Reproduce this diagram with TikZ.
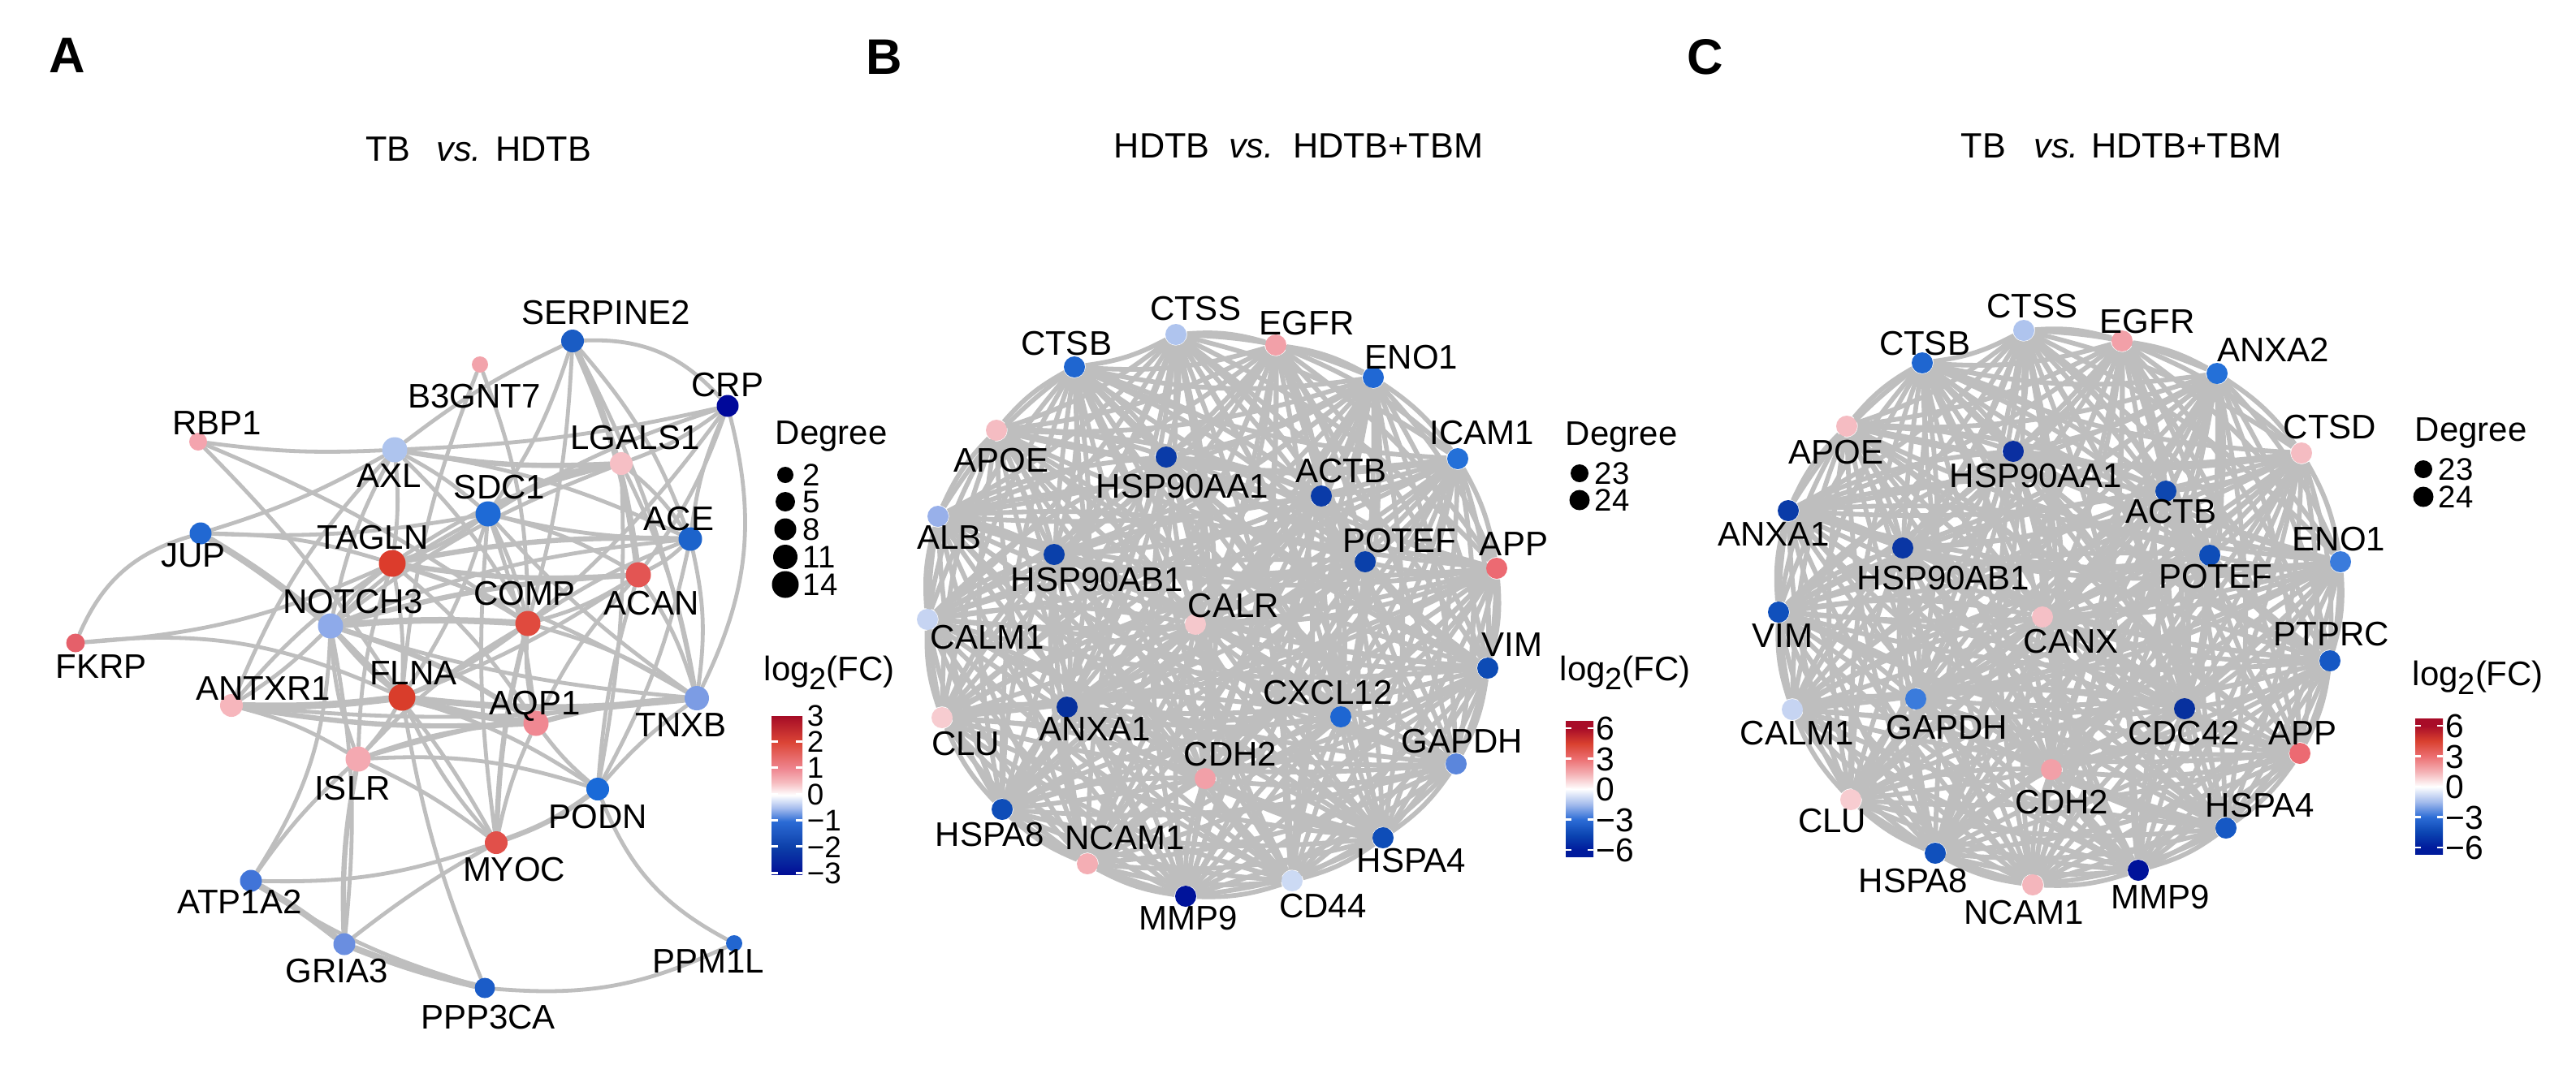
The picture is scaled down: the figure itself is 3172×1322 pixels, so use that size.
\documentclass[tikz,border=0pt]{standalone}
\usepackage{fontspec}
\setmainfont{Liberation Sans}
\definecolor{edgegray}{HTML}{BEBEBE}
% colour bar A
\definecolor{cbAmiii}{HTML}{020E96}
\definecolor{cbAmii}{HTML}{0C3EA8}
\definecolor{cbAmi}{HTML}{2B6BD5}
\definecolor{cbAmh}{HTML}{A8BEEE}
\definecolor{cbAph}{HTML}{F6BCC0}
\definecolor{cbApi}{HTML}{EF8690}
\definecolor{cbApii}{HTML}{DC4536}
\definecolor{cbApiii}{HTML}{A50C26}
% colour bar B/C
\definecolor{cbBmvi}{HTML}{001B9C}
\definecolor{cbBmiv}{HTML}{0B45B2}
\definecolor{cbBmiii}{HTML}{2C6CD6}
\definecolor{cbBmh}{HTML}{A3BBEC}
\definecolor{cbBph}{HTML}{F4B0B4}
\definecolor{cbBpiii}{HTML}{EC6E70}
\definecolor{cbBpiv}{HTML}{D9402F}
\definecolor{cbBpvi}{HTML}{A80C28}
\pgfdeclareverticalshading{fcbarA}{100bp}{color(0bp)=(cbAmiii); color(25bp)=(cbAmiii); color(33.33bp)=(cbAmii); color(41.67bp)=(cbAmi); color(46bp)=(cbAmh); color(50bp)=(white); color(54bp)=(cbAph); color(58.33bp)=(cbApi); color(66.67bp)=(cbApii); color(75bp)=(cbApiii); color(100bp)=(cbApiii)}
\pgfdeclareverticalshading{fcbarB}{100bp}{color(0bp)=(cbBmvi); color(27.4bp)=(cbBmvi); color(33bp)=(cbBmiv); color(38.6bp)=(cbBmiii); color(44.2bp)=(cbBmh); color(49.85bp)=(white); color(55.5bp)=(cbBph); color(61.1bp)=(cbBpiii); color(66.7bp)=(cbBpiv); color(72.3bp)=(cbBpvi); color(100bp)=(cbBpvi)}
\pgfdeclarelayer{bg}
\pgfsetlayers{bg,main}
\tikzset{
  gdot/.style={circle, inner sep=0pt, minimum size=#1*0.25pt},
  lbl/.style={inner sep=0pt, font=\fontsize{10.5}{12}\selectfont, text height=7.5pt, text depth=0pt},
  ttl/.style={inner sep=0pt, font=\fontsize{10.8}{12}\selectfont, text height=7.7pt, text depth=0pt},
  plet/.style={inner sep=0pt, font=\fontsize{15.4}{16}\selectfont\bfseries, text height=11pt, text depth=0pt},
  tickA/.style={inner sep=0pt, anchor=west, font=\fontsize{9.2}{10}\selectfont, text height=6.6pt, text depth=0pt},
  tickB/.style={inner sep=0pt, anchor=west, font=\fontsize{10.2}{12}\selectfont, text height=7.3pt, text depth=0pt},
  degl/.style={inner sep=0pt, anchor=west, font=\fontsize{9.6}{11}\selectfont, text height=6.9pt, text depth=0pt},
  edgeA/.style={draw=edgegray, line cap=round},
  edgeB/.style={draw=edgegray, line width=1.45pt},
  cbtick/.style={draw=white, line width=0.7pt},
}
\newcommand\mkgene[8]{%
  \definecolor{col#1}{HTML}{#5}%
  \node[gdot=#4, fill=col#1] (#1) at (#2,#3) {};
  \node[lbl] (#1-l) at (#6,#7) {#8};
}
\newcommand\logfc{log\raisebox{-0.28em}{\fontsize{9.5}{10}\selectfont 2}(FC)}
\begin{document}
\begin{tikzpicture}[x=0.25pt,y=-0.25pt]
\useasboundingbox (0,0) rectangle (3172,1322);
\begin{pgfonlayer}{bg}
\fill[white] (0,0) rectangle (3172,1322);
\end{pgfonlayer}

% ---------------- Panel A ----------------
\node[plet] (pA) at (83,67) {A};
\node[ttl] (tA) at (589,183) {TB\hspace{0.75em}\textit{vs.}\hspace{0.4em}HDTB};

\mkgene{serp}{705}{420}{28}{1A5CC4}{746}{384}{SERPINE2}
\mkgene{b3g}{591}{449}{20}{F2A3AB}{584}{487}{B3GNT7}
\mkgene{crp}{896}{500}{27}{00089A}{896}{473}{CRP}
\mkgene{rbp}{244}{544}{22}{F4A4AE}{267}{520}{RBP1}
\mkgene{axl}{486}{554}{31}{AEC4EE}{479}{585}{AXL}
\mkgene{lgal}{765}{571}{28}{F6BFC5}{782}{538}{LGALS1}
\mkgene{sdc}{601}{633}{31}{1E6AD6}{615}{599}{SDC1}
\mkgene{ace}{850}{664}{29}{1C63CB}{836}{638}{ACE}
\mkgene{jup}{247}{657}{27}{2168D2}{238}{683}{JUP}
\mkgene{tag}{483}{694}{33}{DC3C2C}{459}{661}{TAGLN}
\mkgene{acan}{786}{708}{31}{E35553}{802}{742}{ACAN}
\mkgene{comp}{650}{768}{31}{E04A3E}{646}{730}{COMP}
\mkgene{notch}{407}{771}{31}{8EAAEA}{435}{740}{NOTCH3}
\mkgene{fkrp}{93}{792}{23}{E5606A}{125}{820}{FKRP}
\mkgene{antx}{285}{869}{28}{F6B6BC}{324}{847}{ANTXR1}
\mkgene{flna}{495}{859}{33}{D93D2B}{509}{828}{FLNA}
\mkgene{aqp}{660}{891}{31}{F08892}{659}{865}{AQP1}
\mkgene{tnxb}{858}{860}{30}{7C9CE4}{839}{892}{TNXB}
\mkgene{islr}{441}{935}{31}{F4A9B1}{434}{970}{ISLR}
\mkgene{podn}{736}{972}{28}{1A6AD8}{736}{1005}{PODN}
\mkgene{myoc}{611}{1038}{28}{E1504A}{633}{1070}{MYOC}
\mkgene{atp}{309}{1085}{27}{4174D8}{295}{1110}{ATP1A2}
\mkgene{gria}{424}{1163}{27}{6A8EE0}{415}{1195}{GRIA3}
\mkgene{ppp}{597}{1217}{25}{1B5CC8}{601}{1252}{PPP3CA}
\mkgene{ppm}{904}{1162}{20}{2266D0}{872}{1183}{PPM1L}

\begin{pgfonlayer}{bg}
\foreach \a/\b/\bd/\w in {
  serp/crp/25/1.2, serp/axl/-6/1.2, serp/sdc/8/1.2, serp/comp/6/1.2, serp/acan/8/2.0, serp/ace/10/1.2, serp/tnxb/8/1.2,
  b3g/comp/10/1.2, b3g/flna/-8/1.2,
  crp/lgal/8/1.2, crp/sdc/-6/1.2, crp/ace/-8/1.2, crp/acan/8/1.2, crp/tnxb/20/1.2, crp/comp/6/1.2,
  rbp/axl/-5/1.2, rbp/comp/6/1.2, rbp/flna/6/1.2,
  jup/axl/-6/1.2, jup/sdc/-6/1.2, jup/tag/8/1.2, jup/notch/4/2.0, jup/fkrp/-25/1.2, jup/flna/6/1.2,
  fkrp/tag/-10/1.2, fkrp/flna/15/1.2,
  axl/lgal/-6/1.6, axl/crp/-5/1.2, axl/sdc/6/1.2, axl/ace/8/1.2, axl/tag/6/1.2, axl/notch/-8/1.2, axl/comp/8/1.2, axl/antx/-10/1.2,
  lgal/sdc/-12/2.0, lgal/ace/8/1.2, lgal/tnxb/8/1.2, lgal/tag/-10/1.2, lgal/podn/6/1.2, lgal/notch/-8/1.2,
  sdc/ace/-6/1.2, sdc/tag/8/1.2, sdc/comp/6/1.2, sdc/acan/8/1.2, sdc/notch/-8/1.2, sdc/flna/8/1.2, sdc/aqp/6/1.2, sdc/tnxb/-6/1.2, sdc/myoc/-6/1.2,
  ace/tag/-6/1.6, ace/acan/8/1.2, ace/comp/-6/1.2, ace/tnxb/10/1.2, ace/notch/-8/1.2, ace/podn/8/1.2,
  tag/acan/-6/1.6, tag/comp/8/1.2, tag/notch/-8/1.2, tag/flna/6/1.2, tag/aqp/8/1.2, tag/islr/-8/1.2, tag/antx/-8/1.2, tag/tnxb/6/1.2,
  acan/comp/8/1.2, acan/notch/-6/1.6, acan/flna/6/1.2, acan/aqp/-8/1.2, acan/tnxb/8/1.2, acan/podn/-6/1.2,
  comp/notch/-4/2.0, comp/flna/6/1.2, comp/aqp/-8/1.2, comp/tnxb/8/1.2, comp/islr/-8/1.2, comp/myoc/-6/1.6,
  notch/antx/6/1.2, notch/flna/-6/1.2, notch/aqp/8/1.6, notch/islr/-8/1.2, notch/tnxb/-6/1.2, notch/myoc/8/1.2, notch/gria/8/1.2, notch/atp/15/1.2,
  antx/flna/-4/2.2, antx/aqp/-6/1.6, antx/islr/8/1.2, antx/tnxb/-6/1.2,
  flna/aqp/-4/2.2, flna/tnxb/-6/2.0, flna/islr/6/1.2, flna/myoc/-8/1.2, flna/podn/8/1.2, flna/ppp/-6/1.2,
  aqp/tnxb/6/1.6, aqp/islr/-8/1.2, aqp/podn/-6/1.2, aqp/myoc/-6/1.2,
  tnxb/islr/-6/1.2, tnxb/podn/-6/1.2,
  islr/podn/10/1.2, islr/myoc/6/1.2, islr/atp/-6/1.2, islr/gria/-6/1.6,
  podn/myoc/8/1.6, podn/ppm/-20/1.2,
  myoc/atp/10/1.2, myoc/gria/-4/1.2,
  atp/gria/4/2.0, atp/ppp/-8/1.2,
  gria/ppp/-4/2.0,
  ppp/ppm/-15/1.2}
  { \draw[edgeA, line width=\w pt] (\a) to[bend left=\bd] (\b); }
\end{pgfonlayer}

% legend A
\node[lbl, anchor=west] (degA) at (954,532) {Degree};
\foreach \v/\d/\yy in {2/20/585, 5/24/618, 8/27/652, 11/30/686, 14/33/720}{
  \node[gdot=\d, fill=black] (dA\v) at (967,\yy) {};
  \node[degl] (dAl\v) at (988,\yy) {\v};
}
\node[lbl, anchor=west] (fcA) at (940,823) {\logfc};
\shade[shading=fcbarA] (950,882) rectangle (988,1077);
\foreach \v/\t [count=\k] in {3/3,2/2,1/1,0/0,-1/−1,-2/−2,-3/−3}{
  \draw[cbtick] (950,{978-32.4*\v}) -- (958,{978-32.4*\v});
  \draw[cbtick] (980,{978-32.4*\v}) -- (988,{978-32.4*\v});
  \node[tickA] (tkA\k) at (993,{978-32.4*\v}) {\t};
}

% ---------------- Panel B ----------------
\node[plet] (pB) at (1089,69) {B};
\node[ttl] (tB) at (1599,179) {HDTB\hspace{0.55em}\textit{vs.}\hspace{0.55em}HDTB+TBM};

\mkgene{bCTSS}{1448}{412}{26}{AFC4EE}{1472}{379}{CTSS}
\mkgene{bEGFR}{1571}{425}{26}{F2A0A8}{1609}{397}{EGFR}
\mkgene{bENO1}{1691}{465}{26}{2068D4}{1738}{439}{ENO1}
\mkgene{bICAM1}{1795}{565}{26}{2470D8}{1825}{532}{ICAM1}
\mkgene{bAPP}{1843}{700}{26}{EC6A72}{1864}{669}{APP}
\mkgene{bVIM}{1832}{823}{26}{0D4BB5}{1862}{793}{VIM}
\mkgene{bGAPDH}{1793}{941}{26}{5B86DC}{1800}{912}{GAPDH}
\mkgene{bHSPA4}{1703}{1032}{26}{0E4DB8}{1738}{1059}{HSPA4}
\mkgene{bCD44}{1591}{1085}{26}{CCDAF4}{1629}{1115}{CD44}
\mkgene{bMMP9}{1460}{1104}{26}{00139A}{1463}{1130}{MMP9}
\mkgene{bNCAM1}{1339}{1064}{26}{F4AEB4}{1385}{1031}{NCAM1}
\mkgene{bHSPA8}{1234}{997}{26}{0E4DB8}{1219}{1027}{HSPA8}
\mkgene{bCLU}{1160}{884}{26}{F7CCD0}{1189}{915}{CLU}
\mkgene{bCALM1}{1142}{763}{26}{C6D4F2}{1216}{784}{CALM1}
\mkgene{bALB}{1155}{636}{26}{98B0EA}{1169}{661}{ALB}
\mkgene{bAPOE}{1227}{530}{26}{F5BCC2}{1233}{566}{APOE}
\mkgene{bCTSB}{1323}{452}{26}{1F66D0}{1313}{422}{CTSB}
\mkgene{bHSP90AA1}{1436}{563}{26}{0A3BA8}{1456}{598}{HSP90AA1}
\mkgene{bACTB}{1627}{611}{26}{0A3BA8}{1651}{579}{ACTB}
\mkgene{bPOTEF}{1681}{692}{26}{0A40AA}{1723}{665}{POTEF}
\mkgene{bHSP90AB1}{1298}{683}{26}{0A40AA}{1351}{713}{HSP90AB1}
\mkgene{bCALR}{1472}{769}{26}{F5C8CC}{1519}{745}{CALR}
\mkgene{bCXCL12}{1651}{883}{26}{1E66D2}{1635}{852}{CXCL12}
\mkgene{bANXA1}{1314}{871}{26}{06319E}{1348}{897}{ANXA1}
\mkgene{bCDH2}{1484}{959}{26}{F2A0A8}{1515}{928}{CDH2}

\def\blist{bCTSS,bEGFR,bENO1,bICAM1,bAPP,bVIM,bGAPDH,bHSPA4,bCD44,bMMP9,bNCAM1,bHSPA8,bCLU,bCALM1,bALB,bAPOE,bCTSB,bHSP90AA1,bACTB,bPOTEF,bHSP90AB1,bCALR,bCXCL12,bANXA1,bCDH2}
\begin{pgfonlayer}{bg}
\foreach \p [count=\i] in \blist {
  \foreach \q [count=\j] in \blist {
    \ifnum\i<\j \draw[edgeB] (\p) to[bend left=10] (\q); \fi
  }
}
\end{pgfonlayer}

\node[lbl, anchor=west] (degB) at (1927,533) {Degree};
\node[gdot=22, fill=black] (dB23) at (1945,583) {};
\node[gdot=25, fill=black] (dB24) at (1945,616) {};
\node[degl] (dBl23) at (1963,583) {23};
\node[degl] (dBl24) at (1963,616) {24};
\node[lbl, anchor=west] (fcB) at (1920,823) {\logfc};
\shade[shading=fcbarB] (1928,888) rectangle (1962,1055);
\foreach \v/\t [count=\k] in {6/6,3/3,0/0,-3/−3,-6/−6}{
  \draw[cbtick] (1928,{972-12.5*\v}) -- (1935,{972-12.5*\v});
  \draw[cbtick] (1955,{972-12.5*\v}) -- (1962,{972-12.5*\v});
  \node[tickB] (tkB\k) at (1965,{972-12.5*\v}) {\t};
}

% ---------------- Panel C ----------------
\node[plet] (pC) at (2100,69) {C};
\node[ttl] (tC) at (2612,179) {TB\hspace{0.8em}\textit{vs.}\hspace{0.35em}HDTB+TBM};

\mkgene{cCTSS}{2492}{407}{26}{AFC4EE}{2502}{376}{CTSS}
\mkgene{cEGFR}{2613}{420}{26}{F2A0A8}{2644}{395}{EGFR}
\mkgene{cANXA2}{2730}{460}{26}{2470D8}{2799}{430}{ANXA2}
\mkgene{cCTSD}{2834}{558}{26}{F5BCC2}{2869}{525}{CTSD}
\mkgene{cENO1}{2882}{692}{26}{3A7BDC}{2880}{663}{ENO1}
\mkgene{cPTPRC}{2869}{814}{26}{1658C4}{2871}{780}{PTPRC}
\mkgene{cAPP}{2832}{928}{26}{EC6A72}{2835}{902}{APP}
\mkgene{cHSPA4}{2741}{1020}{26}{1658C4}{2783}{991}{HSPA4}
\mkgene{cMMP9}{2633}{1072}{26}{00139A}{2660}{1104}{MMP9}
\mkgene{cNCAM1}{2503}{1090}{26}{F4B6BC}{2492}{1123}{NCAM1}
\mkgene{cHSPA8}{2383}{1051}{26}{1050BC}{2356}{1084}{HSPA8}
\mkgene{cCLU}{2279}{985}{26}{F7CCD0}{2256}{1010}{CLU}
\mkgene{cCALM1}{2207}{874}{26}{C6D4F2}{2213}{902}{CALM1}
\mkgene{cVIM}{2190}{754}{26}{1050BC}{2195}{782}{VIM}
\mkgene{cANXA1}{2202}{629}{26}{0A3BA8}{2184}{657}{ANXA1}
\mkgene{cAPOE}{2274}{525}{26}{F5BCC2}{2261}{556}{APOE}
\mkgene{cCTSB}{2367}{447}{26}{1F66D0}{2370}{422}{CTSB}
\mkgene{cHSP90AA1}{2479}{556}{26}{0A2FA0}{2507}{585}{HSP90AA1}
\mkgene{cACTB}{2667}{605}{26}{0E47B0}{2673}{629}{ACTB}
\mkgene{cPOTEF}{2721}{684}{26}{0E4DB8}{2728}{709}{POTEF}
\mkgene{cHSP90AB1}{2343}{675}{26}{0A36A4}{2393}{711}{HSP90AB1}
\mkgene{cCANX}{2515}{760}{26}{F5C0C6}{2550}{789}{CANX}
\mkgene{cGAPDH}{2359}{861}{26}{3A7BDC}{2397}{895}{GAPDH}
\mkgene{cCDC42}{2690}{873}{26}{07309E}{2689}{902}{CDC42}
\mkgene{cCDH2}{2526}{948}{26}{F2A0A8}{2539}{987}{CDH2}

\def\clist{cCTSS,cEGFR,cANXA2,cCTSD,cENO1,cPTPRC,cAPP,cHSPA4,cMMP9,cNCAM1,cHSPA8,cCLU,cCALM1,cVIM,cANXA1,cAPOE,cCTSB,cHSP90AA1,cACTB,cPOTEF,cHSP90AB1,cCANX,cGAPDH,cCDC42,cCDH2}
\begin{pgfonlayer}{bg}
\foreach \p [count=\i] in \clist {
  \foreach \q [count=\j] in \clist {
    \ifnum\i<\j \draw[edgeB] (\p) to[bend left=10] (\q); \fi
  }
}
\end{pgfonlayer}

\node[lbl, anchor=west] (degC) at (2973,528) {Degree};
\node[gdot=22, fill=black] (dC23) at (2984,578) {};
\node[gdot=25, fill=black] (dC24) at (2984,612) {};
\node[degl] (dCl23) at (3002,578) {23};
\node[degl] (dCl24) at (3002,612) {24};
\node[lbl, anchor=west] (fcC) at (2970,829) {\logfc};
\shade[shading=fcbarB] (2974,885) rectangle (3008,1052);
\foreach \v/\t [count=\k] in {6/6,3/3,0/0,-3/−3,-6/−6}{
  \draw[cbtick] (2974,{969-12.5*\v}) -- (2981,{969-12.5*\v});
  \draw[cbtick] (3001,{969-12.5*\v}) -- (3008,{969-12.5*\v});
  \node[tickB] (tkC\k) at (3011,{969-12.5*\v}) {\t};
}
\end{tikzpicture}
\end{document}
